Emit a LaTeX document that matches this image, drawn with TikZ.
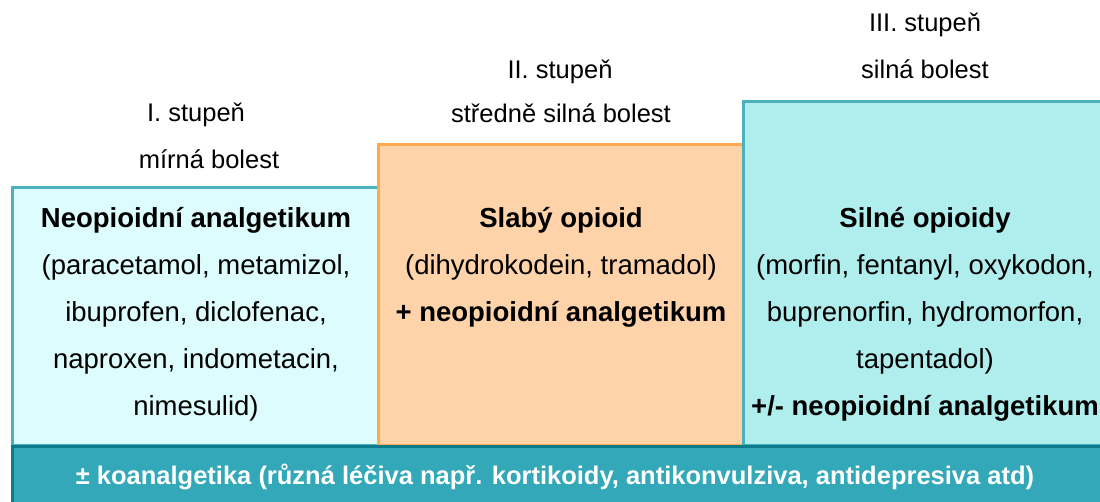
\documentclass[tikz,border=0pt]{standalone}
\usepackage{fontspec}
\setmainfont{Liberation Sans}
\definecolor{boxoneF}{RGB}{221,252,253}
\definecolor{tealB}{RGB}{75,177,189}
\definecolor{peachF}{RGB}{255,211,170}
\definecolor{orangeB}{RGB}{255,168,80}
\definecolor{cyanF}{RGB}{176,238,238}
\definecolor{barF}{RGB}{50,168,185}
\definecolor{barB}{RGB}{11,122,138}
\begin{document}
\begin{tikzpicture}[x=1pt,y=-1pt,
  stepbox/.style={rectangle,inner sep=0pt,outer sep=0pt,line width=3pt,anchor=north west},
  txt/.style={anchor=base,inner sep=0pt,font=\fontsize{25.5}{30}\selectfont},
  ltxt/.style={anchor=base,inner sep=0pt,font=\fontsize{27.5}{30}\selectfont},
  lbtxt/.style={ltxt,font=\fontsize{27.5}{30}\selectfont\bfseries},
  wtxt/.style={txt,font=\fontsize{25.5}{30}\selectfont\bfseries,text=white}]
\useasboundingbox (0,0) rectangle (1100,501);
\clip (0,0) rectangle (1100,501);
% boxes
\node[stepbox,draw=tealB,fill=boxoneF,minimum width=366pt,minimum height=258pt] (b1) at (12,187) {};
\node[stepbox,draw=orangeB,fill=peachF,minimum width=365pt,minimum height=301pt] (b2) at (378,144) {};
\node[stepbox,draw=tealB,fill=cyanF,minimum width=366pt,minimum height=344pt] (b3) at (743,101) {};
\node[stepbox,draw=barB,fill=barF,minimum width=1100pt,minimum height=70pt] (bar) at (12,446) {};
% headers
\node[txt] (h1a) at (196,121) {I. stupeň};
\node[txt] (h1b) at (209,168) {mírná bolest};
\node[txt] (h2a) at (560,78) {II. stupeň};
\node[txt] (h2b) at (561,122) {středně silná bolest};
\node[txt] (h3a) at (925,31) {III. stupeň};
\node[txt] (h3b) at (925,78) {silná bolest};
% box 1
\node[lbtxt] (t1a) at (196,227) {Neopioidní analgetikum};
\node[ltxt] (t1b) at (196,274) {(paracetamol, metamizol,};
\node[ltxt] (t1c) at (196,321) {ibuprofen, diclofenac,};
\node[ltxt] (t1d) at (196,368) {naproxen, indometacin,};
\node[ltxt] (t1e) at (196,415) {nimesulid)};
% box 2
\node[lbtxt] (t2a) at (561,227) {Slabý opioid};
\node[ltxt] (t2b) at (561,274) {(dihydrokodein, tramadol)};
\node[lbtxt] (t2c) at (561,321) {+ neopioidní analgetikum};
% box 3
\node[lbtxt] (t3a) at (925,227) {Silné opioidy};
\node[ltxt] (t3b) at (925,274) {(morfin, fentanyl, oxykodon,};
\node[ltxt] (t3c) at (925,321) {buprenorfin, hydromorfon,};
\node[ltxt] (t3d) at (925,368) {tapentadol)};
\node[lbtxt] (t3e) at (925,415) {+/- neopioidní analgetikum};
% bar
\node[wtxt] (tb) at (555,484) {± koanalgetika (různá léčiva např. kortikoidy, antikonvulziva, antidepresiva atd)};
\end{tikzpicture}
\end{document}
